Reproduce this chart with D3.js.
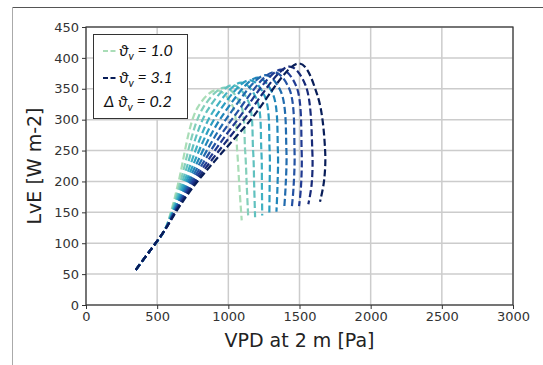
<!DOCTYPE html>
<html>
<head>
<meta charset="utf-8">
<script src="https://cdn.jsdelivr.net/npm/d3@7"></script>
<style>
  body { margin: 0; background: #fff; }
  svg { display: block; }
  .tick text { font-family: "DejaVu Sans", sans-serif; font-size: 13px; fill: #333; }
</style>
</head>
<body>
<svg id="chart"></svg>
<script>
'use strict';

// theta_v levels, one curve each (lightest first)
const thetaLevels = [1.0, 1.2, 1.4, 1.6, 1.8, 2.0, 2.2, 2.4, 2.6, 2.8, 3.0];

// shared lower branch (VPD [Pa], LvE [W m-2])
const sharedVpd = [350, 450, 550];
const sharedLve = [57, 88, 120];

// per-curve points after the branch splits off
const curveVpd = [
  [608, 650, 785, 920, 1030, 1062, 1078, 1094],
  [613, 663, 819, 975, 1085, 1118, 1130, 1140],
  [618, 676, 853, 1030, 1140, 1174, 1182, 1188],
  [623, 689, 890, 1090, 1198, 1232, 1236, 1238],
  [628, 702, 926, 1150, 1256, 1290, 1290, 1288],
  [633, 715, 960, 1205, 1312, 1348, 1345, 1338],
  [638, 728, 994, 1260, 1368, 1408, 1402, 1392],
  [643, 741, 1030, 1320, 1428, 1465, 1458, 1446],
  [648, 754, 1062, 1370, 1476, 1515, 1510, 1497],
  [653, 767, 1098, 1430, 1540, 1590, 1585, 1562],
  [658, 780, 1140, 1500, 1625, 1680, 1672, 1644]
];
const curveLve = [
  [160, 199, 320, 348, 322, 250, 190, 137],
  [160, 199, 318, 352, 326, 250, 190, 140],
  [160, 199, 315, 356, 330, 250, 190, 142],
  [160, 199, 312, 360, 334, 250, 190, 145],
  [160, 199, 310, 364, 338, 250, 190, 148],
  [160, 199, 307, 368, 342, 250, 190, 151],
  [160, 199, 304, 372, 346, 250, 190, 155],
  [160, 199, 302, 377, 350, 250, 190, 158],
  [160, 199, 299, 381, 355, 250, 190, 160],
  [160, 199, 297, 386, 357, 250, 195, 163],
  [160, 199, 295, 391, 340, 250, 200, 167]
];

const xTicks = [0, 500, 1000, 1500, 2000, 2500, 3000];
const yTicks = [0, 50, 100, 150, 200, 250, 300, 350, 400, 450];

const width = 543;
const height = 365;
const margin = {left: 86, right: 30, top: 27, bottom: 60};

const svg = d3.select('#chart')
    .attr('width', width)
    .attr('height', height);

// screenshot frame
svg.append('line')
    .attr('x1', 12).attr('y1', 7.5).attr('x2', width).attr('y2', 7.5)
    .attr('stroke', '#555').attr('stroke-width', 1);
svg.append('line')
    .attr('x1', 12.5).attr('y1', 7).attr('x2', 12.5).attr('y2', height)
    .attr('stroke', '#aaa').attr('stroke-width', 1);

const x = d3.scaleLinear().domain([0, 3000]).range([margin.left, width - margin.right]);
const y = d3.scaleLinear().domain([0, 450]).range([height - margin.bottom, margin.top]);

// grid
svg.append('g')
    .selectAll('line')
    .data(xTicks)
    .enter().append('line')
    .attr('x1', (d) => x(d)).attr('x2', (d) => x(d))
    .attr('y1', y(0)).attr('y2', y(450))
    .attr('stroke', '#cccccc').attr('stroke-width', 1.5);
svg.append('g')
    .selectAll('line')
    .data(yTicks)
    .enter().append('line')
    .attr('x1', x(0)).attr('x2', x(3000))
    .attr('y1', (d) => y(d)).attr('y2', (d) => y(d))
    .attr('stroke', '#cccccc').attr('stroke-width', 1.5);

// curves
const color = (i) => d3.interpolateYlGnBu(0.3 + 0.7 * i / (thetaLevels.length - 1));
const line = d3.line()
    .x((d) => x(d[0]))
    .y((d) => y(d[1]))
    .curve(d3.curveCatmullRom.alpha(0.5));

const curves = thetaLevels.map((t, i) => {
  const pts = sharedVpd.map((v, j) => [v, sharedLve[j]]);
  curveVpd[i].forEach((v, j) => pts.push([v, curveLve[i][j]]));
  return pts;
});

svg.append('g')
    .selectAll('path')
    .data(curves)
    .enter().append('path')
    .attr('d', line)
    .attr('fill', 'none')
    .attr('stroke', (d, i) => color(i))
    .attr('stroke-width', 2.2)
    .attr('stroke-dasharray', '7,3.2');

// axes
const xAxis = svg.append('g')
    .attr('transform', 'translate(0,' + y(0) + ')')
    .call(d3.axisBottom(x).tickValues(xTicks).tickFormat(d3.format('d')).tickSize(4).tickPadding(3));
const yAxis = svg.append('g')
    .attr('transform', 'translate(' + x(0) + ',0)')
    .call(d3.axisLeft(y).tickValues(yTicks).tickFormat(d3.format('d')).tickSize(4).tickPadding(3));
[xAxis, yAxis].forEach((g) => {
  g.select('.domain').remove();
  g.selectAll('.tick line').attr('stroke', '#333').attr('stroke-width', 1);
});

// frame of the axes
svg.append('rect')
    .attr('x', x(0)).attr('y', y(450))
    .attr('width', x(3000) - x(0)).attr('height', y(0) - y(450))
    .attr('fill', 'none')
    .attr('stroke', '#333')
    .attr('stroke-width', 1.2);

// axis labels
svg.append('text')
    .attr('x', (x(0) + x(3000)) / 2)
    .attr('y', 347)
    .attr('text-anchor', 'middle')
    .style('font-family', 'DejaVu Sans, sans-serif')
    .style('font-size', '19px')
    .attr('fill', '#222')
    .text('VPD at 2 m [Pa]');
svg.append('text')
    .attr('transform', 'translate(41,' + ((y(0) + y(450)) / 2) + ') rotate(-90)')
    .attr('text-anchor', 'middle')
    .style('font-family', 'DejaVu Sans, sans-serif')
    .style('font-size', '19px')
    .attr('fill', '#222')
    .text('LvE [W m-2]');

// legend
const legend = svg.append('g');
legend.append('rect')
    .attr('x', 93.5).attr('y', 34.5)
    .attr('width', 94).attr('height', 84)
    .attr('fill', '#fff')
    .attr('stroke', '#333')
    .attr('stroke-width', 1);

const legendRows = [
  {prefix: '', value: '= ' + thetaLevels[0].toFixed(1), sample: color(0), base: 56},
  {prefix: '', value: '= 3.1', sample: color(thetaLevels.length - 1), base: 83},
  {prefix: 'Δ ', value: '= 0.2', sample: null, base: 107}
];
legendRows.forEach((r) => {
  if (r.sample) {
    legend.append('line')
        .attr('x1', 103).attr('x2', 117)
        .attr('y1', r.base - 5).attr('y2', r.base - 5)
        .attr('stroke', r.sample)
        .attr('stroke-width', 2)
        .attr('stroke-dasharray', '5,2.5');
  }
  const t = legend.append('text')
      .attr('x', r.prefix ? 104 : 119)
      .attr('y', r.base)
      .style('font-family', 'Lato, sans-serif')
      .style('font-style', 'italic')
      .style('font-size', '16px')
      .attr('fill', '#111');
  t.append('tspan').text(r.prefix + 'ϑ');
  t.append('tspan').attr('dy', 4).style('font-size', '11px').text('v');
  t.append('tspan').attr('dy', -4).text(' ' + r.value);
});
</script>
</body>
</html>
